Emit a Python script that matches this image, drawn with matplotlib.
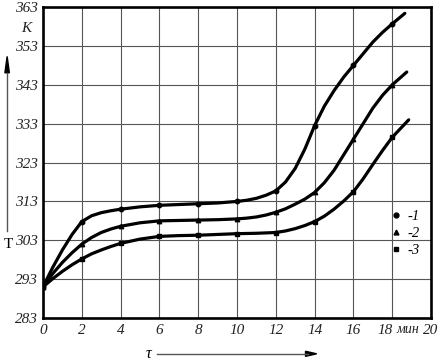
import numpy as np
import matplotlib.pyplot as plt
from matplotlib.lines import Line2D

# time, min, and temperature, K (denser where it bends)
t1 = [0, 0.5, 1, 1.5, 2, 2.5, 3, 3.5, 4, 5, 6, 7, 8, 9, 10, 10.5, 11, 11.5, 12,
      12.5, 13, 13.5, 14, 14.5, 15, 15.5, 16, 16.5, 17, 17.5, 18, 18.65]
T1 = [291, 296.0, 300.5, 304.5, 307.8, 309.3, 310.1, 310.6, 311.0, 311.6, 312.0,
      312.2, 312.4, 312.6, 313.0, 313.3, 313.8, 314.6, 315.7, 318.0, 321.5, 326.5,
      332.5, 337.5, 341.5, 345.0, 348.0, 351.0, 354.0, 356.5, 358.7, 361.4]

t2 = [0, 0.5, 1, 1.5, 2, 2.5, 3, 3.5, 4, 5, 6, 7, 8, 9, 10, 10.5, 11, 11.5, 12,
      12.5, 13, 13.5, 14, 14.5, 15, 15.5, 16, 16.5, 17, 17.5, 18, 18.75]
T2 = [291, 294.4, 297.3, 299.8, 302.0, 303.7, 305.0, 305.9, 306.6, 307.5, 308.0,
      308.1, 308.2, 308.3, 308.5, 308.7, 309.0, 309.5, 310.2, 311.1, 312.3, 313.6,
      315.3, 317.8, 321.0, 325.0, 329.0, 333.0, 337.0, 340.3, 343.0, 346.3]

t3 = [0, 0.5, 1, 1.5, 2, 2.5, 3, 3.5, 4, 5, 6, 7, 8, 9, 10, 11, 12, 12.5, 13,
      13.5, 14, 14.5, 15, 15.5, 16, 16.5, 17, 17.5, 18, 18.85]
T3 = [291, 293.1, 295.0, 296.7, 298.2, 299.5, 300.5, 301.4, 302.2, 303.3, 304.0,
      304.2, 304.3, 304.5, 304.7, 304.8, 305.0, 305.4, 306.0, 306.8, 307.8, 309.2,
      311.0, 313.1, 315.5, 318.8, 322.5, 326.1, 329.5, 334.0]

x_ticks = [0, 2, 4, 6, 8, 10, 12, 14, 16, 18, 20]
y_ticks = [283, 293, 303, 313, 323, 333, 343, 353, 363]
marker_times = [0, 2, 4, 6, 8, 10, 12, 14, 16, 18]
markers = ["o", "^", "s"]
labels = ["-1", "-2", "-3"]

serif = ["Liberation Serif", "DejaVu Serif"]

fig = plt.figure(figsize=(4.46, 3.64), dpi=100)
ax = fig.add_axes([0.0964, 0.1264, 0.870, 0.854])

for t, T, m in zip([t1, t2, t3], [T1, T2, T3], markers):
    every = [v in marker_times for v in t]
    ax.plot(t, T, color="black", lw=2.3, solid_capstyle="round", solid_joinstyle="round",
            marker=m, markersize=3.2, markevery=every)

ax.set_xlim(0, 20)
ax.set_ylim(283, 363)
ax.set_xticks(x_ticks)
ax.set_yticks(y_ticks)
ax.grid(True, color="#555555", lw=0.8)
ax.set_axisbelow(True)
ax.tick_params(length=0, pad=4)
for s in ax.spines.values():
    s.set_linewidth(1.9)

ax.set_xticklabels([str(v) for v in x_ticks], fontfamily=serif, fontstyle="italic",
                   fontsize=11, color="#222222")
ax.set_yticklabels([str(v) for v in y_ticks], fontfamily=serif, fontstyle="italic",
                   fontsize=11, color="#222222")
# "18" sits left of its tick so the unit fits between 18 and 20
ax.get_xticklabels()[-2].set_horizontalalignment("right")
ax.text(18.8, 281.6, "мин", ha="center", va="top", fontfamily=serif,
        fontstyle="italic", fontsize=10, color="#222222")
ax.text(-0.85, 357.6, "K", ha="center", va="center", fontfamily=serif,
        fontstyle="italic", fontsize=11, color="#222222")

# axis names with arrows
fig.text(0.018, 0.327, "T", ha="center", va="center", fontfamily=serif, fontsize=11)
fig.add_artist(plt.Line2D([0.016, 0.016], [0.365, 0.80], color="#555555", lw=1.0))
fig.patches.append(plt.Polygon([[0.011, 0.80], [0.021, 0.80], [0.016, 0.845]],
                               closed=True, color="black", transform=fig.transFigure))
fig.text(0.333, 0.028, "τ", ha="center", va="center", fontfamily=serif,
         fontstyle="italic", fontsize=11.5)
fig.add_artist(plt.Line2D([0.352, 0.69], [0.028, 0.028], color="#555555", lw=1.0))
fig.patches.append(plt.Polygon([[0.685, 0.021], [0.685, 0.035], [0.71, 0.028]],
                               closed=True, color="black", transform=fig.transFigure))

handles = [Line2D([], [], color="black", ls="none", marker=m, markersize=3.5)
           for m in markers]
leg = ax.legend(handles, labels, loc="upper left", bbox_to_anchor=(0.865, 0.39),
                frameon=False, handlelength=0.6, handletextpad=0.5, labelspacing=0.25,
                prop={"family": serif, "style": "italic", "size": 10.5})

fig.savefig("out.png", dpi=100)
